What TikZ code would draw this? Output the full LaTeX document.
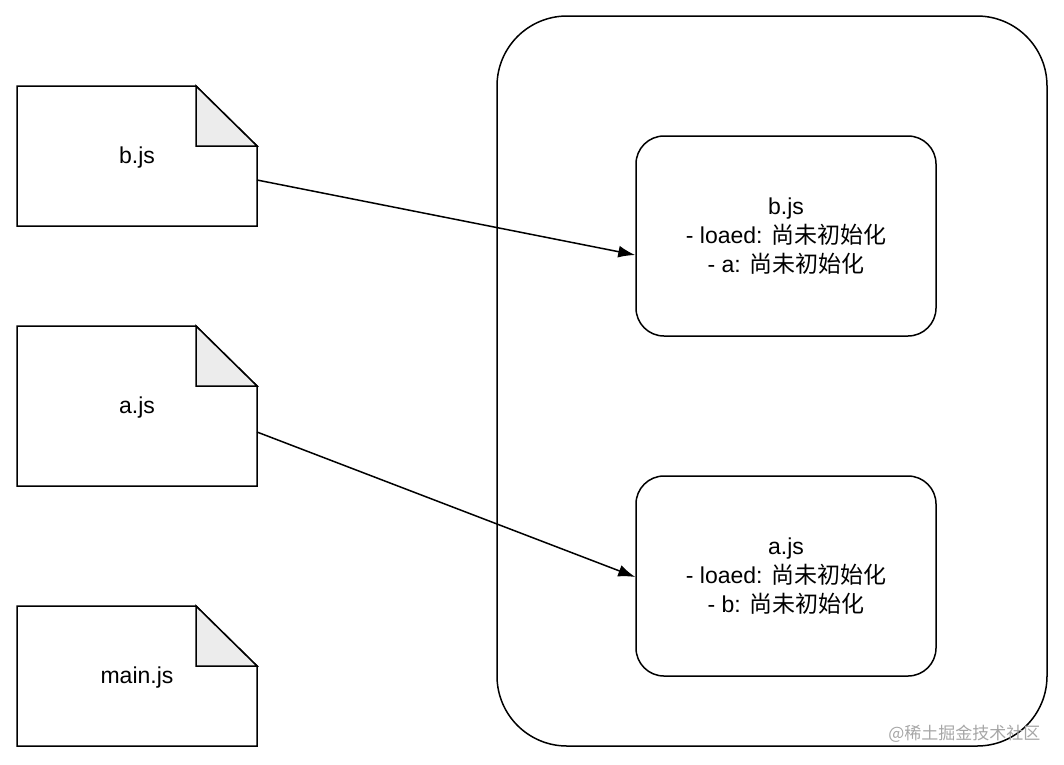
\documentclass[tikz,border=0pt]{standalone}
\usepackage{fontspec}
\setmainfont{Liberation Sans}
\newfontfamily\cjk{Noto Sans CJK SC}
\usetikzlibrary{positioning,arrows.meta}

\tikzset{
  filebox/.style={draw=black,line width=1.5pt,fill=white},
  statebox/.style={draw=black,line width=1.5pt,rounded corners=28pt,minimum width=300pt,minimum height=200pt,align=center,font=\fontsize{23}{29}\selectfont},
  link/.style={-{Latex[length=17pt,width=12pt]},line width=1.5pt},
}
\newcommand{\docfile}[4]{% name, top-left, height, label
  \draw[filebox] (#2) -- ++(179,0) -- ++(61,-60) -- ++(0,{-(#3-60)}) -- ++(-240,0) -- cycle;
  \draw[line width=1.5pt,fill=gray!15] (#2) ++(179,0) -- ++(0,-60) -- ++(61,0) -- cycle;
  \path (#2) ++(120,{-#3/2-2}) node[font=\fontsize{23}{26}\selectfont] (#1) {#4};
}

\begin{document}
\begin{tikzpicture}[x=1pt,y=1pt]
\useasboundingbox (0,0) rectangle (1064,-764);
% module cache
\draw[line width=1.5pt,rounded corners=70pt] (497,-16) rectangle (1047,-746);
\node[statebox] (bstate) at (786,-236) {b.js\\- loaed: {\cjk 尚未初始化}\\- a: {\cjk 尚未初始化}};
\node[statebox] (astate) at (786,-576) {a.js\\- loaed: {\cjk 尚未初始化}\\- b: {\cjk 尚未初始化}};

% files
\docfile{bjs}{17,-86}{140}{b.js}
\docfile{ajs}{17,-326}{160}{a.js}
\docfile{mainjs}{17,-606}{140}{main.js}

% arrows
\coordinate (bout) at (257,-180);
\coordinate (aout) at (257,-432);
\draw[link] (bout) -- ([yshift=-19]bstate.west);
\draw[link] (aout) -- ([yshift=-1]astate.west);

\node[anchor=east,text=gray!70,font=\cjk\fontsize{17}{20}\selectfont] (credit) at (1044,-734) {@稀土掘金技术社区};
\end{tikzpicture}
\end{document}
